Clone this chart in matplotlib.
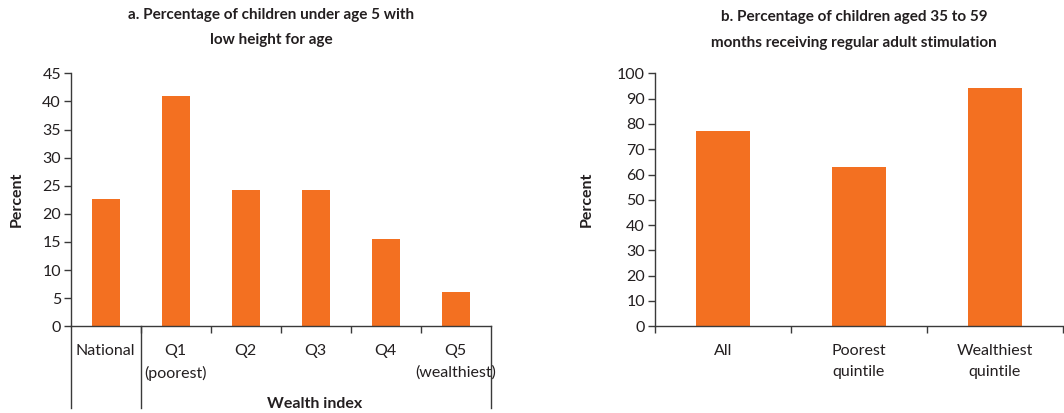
import matplotlib
matplotlib.use("Agg")
import matplotlib.pyplot as plt
from matplotlib.lines import Line2D

plt.rcParams['font.family'] = ['Lato', 'DejaVu Sans']

left_categories = ["National", "Q1\n(poorest)", "Q2", "Q3", "Q4", "Q5\n(wealthiest)"]
left_values = [22.7, 41.0, 24.3, 24.3, 15.5, 6.1]
left_yticks = [0, 5, 10, 15, 20, 25, 30, 35, 40, 45]

right_categories = ["All", "Poorest\nquintile", "Wealthiest\nquintile"]
right_values = [77, 63, 94]
right_yticks = [0, 10, 20, 30, 40, 50, 60, 70, 80, 90, 100]

left_title = "a. Percentage of children under age 5 with\nlow height for age"
right_title = "b. Percentage of children aged 35 to 59\nmonths receiving regular adult stimulation"

ORANGE = "#F37021"
TEXT = "#231F20"
SPINE = "#3a3a3a"
FS = 11.5
TFS = 11

W, H = 1064, 413
fig = plt.figure(figsize=(W / 100, H / 100), dpi=100)

def px_axes(x0, x1, y0, y1):
    return fig.add_axes([x0 / W, 1 - y1 / H, (x1 - x0) / W, (y1 - y0) / H])

def style(ax, yticks):
    for s in ("top", "right"):
        ax.spines[s].set_visible(False)
    for s in ("left", "bottom"):
        ax.spines[s].set_color(SPINE)
        ax.spines[s].set_linewidth(1.0)
    ax.set_yticks(yticks)
    ax.set_ylim(yticks[0], yticks[-1])
    ax.tick_params(axis="y", direction="out", length=5, width=1.0, color=SPINE,
                   labelsize=FS, labelcolor=TEXT, pad=2)
    ax.tick_params(axis="x", which="major", length=0, labelsize=FS, labelcolor=TEXT, pad=13)
    ax.tick_params(axis="x", which="minor", direction="out", length=5, width=1.0, color=SPINE)

# Left chart
axL = px_axes(70.7, 490.7, 73.3, 326.3)
xl = list(range(len(left_categories)))
axL.bar(xl, left_values, width=0.4, color=ORANGE, zorder=2)
axL.set_xlim(-0.5, len(left_categories) - 0.5)
axL.set_xticks(xl)
axL.set_xticklabels(left_categories, linespacing=1.6, va="top")
axL.set_xticks([i + 0.5 for i in range(len(left_categories) - 1)], minor=True)
style(axL, left_yticks)
axL.set_ylabel("Percent", fontsize=FS, fontweight="bold", color=TEXT)
axL.yaxis.set_label_coords((24 - 70.7) / 420, 0.5)
depth = -82 / 253
for xv in (-0.5, 0.5, len(left_categories) - 0.5):
    axL.add_line(Line2D([xv, xv], [0, depth], transform=axL.get_xaxis_transform(),
                        color=SPINE, lw=1.0, clip_on=False))
fig.text(314.7 / W, 1 - 404 / H, "Wealth index", ha="center", va="center",
         fontsize=FS, fontweight="bold", color=TEXT)
fig.text(271 / W, 1 - 27.5 / H, left_title, ha="center", va="center",
         fontsize=TFS, fontweight="bold", color=TEXT, linespacing=1.95)

# Right chart
axR = px_axes(654.7, 1062.7, 73.3, 326.3)
xr = list(range(len(right_categories)))
axR.bar(xr, right_values, width=0.4, color=ORANGE, zorder=2)
axR.set_xlim(-0.5, len(right_categories) - 0.5)
axR.set_xticks(xr)
axR.set_xticklabels(right_categories, linespacing=1.6, va="top")
axR.set_xticks([i - 0.5 for i in range(len(right_categories) + 1)], minor=True)
style(axR, right_yticks)
axR.set_ylabel("Percent", fontsize=FS, fontweight="bold", color=TEXT)
axR.yaxis.set_label_coords((594 - 654.7) / 408, 0.5)
fig.text(854 / W, 1 - 30 / H, right_title, ha="center", va="center",
         fontsize=TFS, fontweight="bold", color=TEXT, linespacing=2.0)

fig.savefig("out.png", dpi=100)
